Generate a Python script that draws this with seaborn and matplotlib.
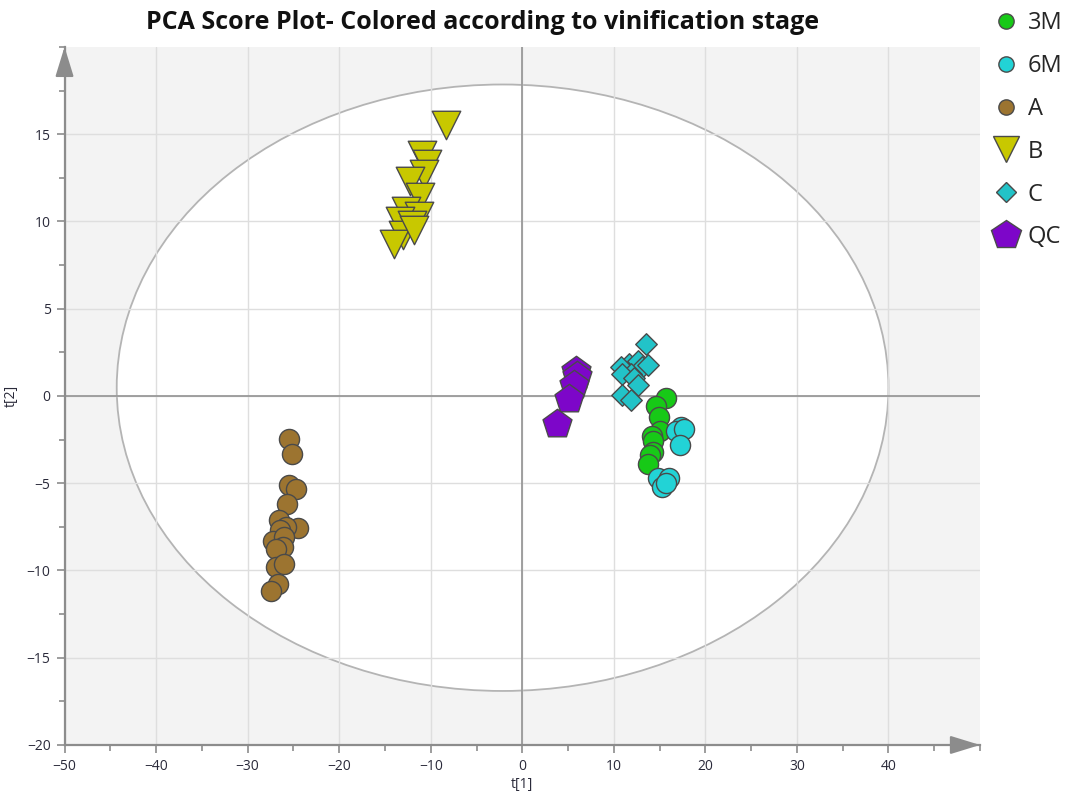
import matplotlib
matplotlib.use("Agg")
import matplotlib.pyplot as plt
from matplotlib.patches import Ellipse
from matplotlib.lines import Line2D
from matplotlib.ticker import MultipleLocator
import seaborn as sns
import pandas as pd

# PCA scores (t[1], t[2]) per vinification stage
m3_t1 = [15.7, 14.6, 14.9, 15.0, 14.2, 14.3, 14.3, 13.9, 13.7]
m3_t2 = [-0.1, -0.6, -1.2, -2.0, -2.3, -2.6, -3.2, -3.4, -3.9]

m6_t1 = [17.3, 16.8, 17.7, 17.2, 14.8, 16.0, 15.3, 15.7]
m6_t2 = [-1.8, -2.0, -1.9, -2.8, -4.7, -4.7, -5.2, -5.0]

a_t1 = [-25.5, -25.1, -25.5, -24.7, -25.7, -26.6, -24.5, -25.8, -26.5,
        -27.2, -26.0, -26.1, -26.9, -26.9, -26.0, -26.7, -27.5]
a_t2 = [-2.45, -3.3, -5.1, -5.35, -6.2, -7.1, -7.55, -7.5, -7.7,
        -8.3, -8.1, -8.65, -8.75, -9.8, -9.65, -10.8, -11.2]

b_t1 = [-8.3, -10.9, -10.4, -10.7, -12.3, -11.2, -12.7, -11.3, -13.4,
        -12.1, -13.0, -14.0, -11.8]
b_t2 = [15.5, 13.8, 13.3, 12.7, 12.3, 11.4, 10.6, 10.3, 10.0,
        9.8, 9.2, 8.7, 9.5]

c_t1 = [13.5, 11.7, 12.6, 10.8, 13.1, 13.7, 11.9, 10.9, 12.2, 12.6, 10.9, 11.9]
c_t2 = [3.0, 1.85, 2.0, 1.65, 1.65, 1.75, 1.25, 1.25, 1.0, 0.6, 0.05, -0.25]

qc_t1 = [5.9, 6.0, 5.6, 5.1, 3.8]
qc_t2 = [1.45, 1.15, 0.6, -0.2, -1.6]

groups = ["3M", "6M", "A", "B", "C", "QC"]
scores = {
    "3M": (m3_t1, m3_t2),
    "6M": (m6_t1, m6_t2),
    "A": (a_t1, a_t2),
    "B": (b_t1, b_t2),
    "C": (c_t1, c_t2),
    "QC": (qc_t1, qc_t2),
}

colors = {"3M": "#17C917", "6M": "#22D3D6", "A": "#9C7430",
          "B": "#C8C800", "C": "#22C3C8", "QC": "#7D06C9"}
markers = {"3M": "o", "6M": "o", "A": "o", "B": "v", "C": "D", "QC": "p"}
sizes = {"3M": 210, "6M": 210, "A": 210, "B": 420, "C": 120, "QC": 480}
legend_ms = {"3M": 11, "6M": 11, "A": 11, "B": 19, "C": 10, "QC": 22}

rows = []
for g in groups:
    t1, t2 = scores[g]
    rows += [{"t1": x, "t2": y, "stage": g} for x, y in zip(t1, t2)]
df = pd.DataFrame(rows)

sns.set_theme(style="white")
plt.rcParams["font.family"] = ["Open Sans", "DejaVu Sans"]

fig = plt.figure(figsize=(10.72, 7.96), dpi=100)
ax = fig.add_axes([0.0602, 0.0641, 0.854, 0.877])
ax.set_facecolor("#F3F3F3")

# Hotelling T2 confidence ellipse
ell = Ellipse((-2.15, 0.47), width=84.3, height=34.75, facecolor="white",
              edgecolor="#B4B4B4", linewidth=1.3, zorder=0.2)
ax.add_patch(ell)

for g in groups:
    sub = df[df["stage"] == g]
    sns.scatterplot(data=sub, x="t1", y="t2", ax=ax, marker=markers[g],
                    s=sizes[g], color=colors[g], edgecolor="#4A4A4A",
                    linewidth=1.0, zorder=3, legend=False)

ax.axhline(0, color="#999999", lw=1.3, zorder=1)
ax.axvline(0, color="#999999", lw=1.3, zorder=1)

ax.set_xlim(-50, 50)
ax.set_ylim(-20, 20)
ax.xaxis.set_major_locator(MultipleLocator(10))
ax.xaxis.set_minor_locator(MultipleLocator(5))
ax.yaxis.set_major_locator(MultipleLocator(5))
ax.yaxis.set_minor_locator(MultipleLocator(2.5))
ax.set_xticks(range(-50, 41, 10))
ax.set_yticks(range(-20, 16, 5))
ax.set_axisbelow(True)
ax.grid(True, which="major", color="#DEDEDE", lw=1.0)

for side in ("top", "right"):
    ax.spines[side].set_visible(False)
for side in ("left", "bottom"):
    ax.spines[side].set_color("#8C8C8C")
    ax.spines[side].set_linewidth(1.6)

ax.tick_params(axis="both", which="major", direction="out", length=6,
               width=1.2, color="#8C8C8C", labelsize=10, labelcolor="#2A2A3A",
               left=True, bottom=True, pad=4)
ax.tick_params(axis="both", which="minor", direction="out", length=4,
               width=1.2, color="#8C8C8C", left=True, bottom=True)

# arrow heads at the ends of both axes
arrow = dict(arrowstyle="-|>,head_length=1.3,head_width=0.4",
             color="#8C8C8C", lw=1.6, shrinkA=0, shrinkB=0)
ax.annotate("", xy=(1.0, 0.0), xytext=(0.97, 0.0), xycoords="axes fraction",
            arrowprops=dict(arrow, mutation_scale=14), annotation_clip=False)
ax.annotate("", xy=(0.0, 1.0), xytext=(0.0, 0.97), xycoords="axes fraction",
            arrowprops=dict(arrow, mutation_scale=14), annotation_clip=False)

ax.set_xlabel("t[1]", fontsize=10, color="#2A2A3A", labelpad=2)
ax.set_ylabel("t[2]", fontsize=10, color="#2A2A3A", labelpad=6)

fig.text(0.45, 0.972, "PCA Score Plot- Colored according to vinification stage",
         ha="center", va="center", fontsize=18, fontweight="bold",
         color="#111111")

handles = [Line2D([], [], linestyle="none", marker=markers[g],
                  markersize=legend_ms[g], markerfacecolor=colors[g],
                  markeredgecolor="#4A4A4A", markeredgewidth=1.0, label=g)
           for g in groups]
fig.legend(handles=handles, loc="upper left", bbox_to_anchor=(0.916, 0.998),
           frameon=False, fontsize=17, handletextpad=0.35, labelspacing=0.8,
           handlelength=1.2, borderaxespad=0)

fig.savefig("out.png", dpi=100)
